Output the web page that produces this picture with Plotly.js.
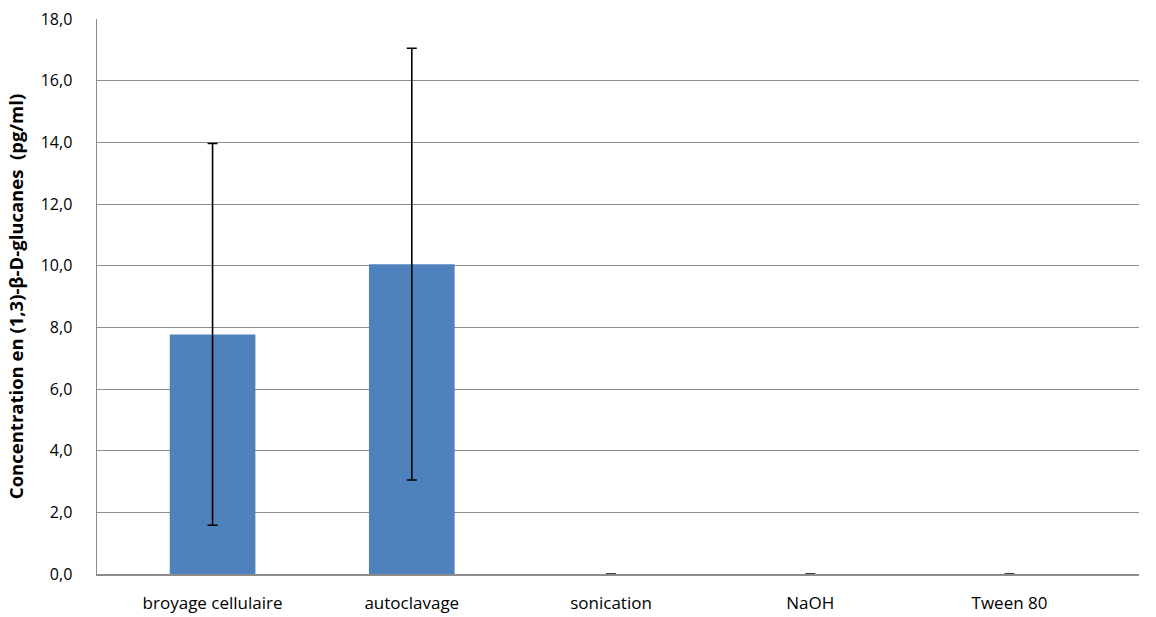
<!DOCTYPE html>
<html>
<head>
<meta charset="utf-8">
<script src="https://cdn.plot.ly/plotly-3.0.1.min.js"></script>
<style>html,body{margin:0;padding:0;background:#fff;}#chart{width:1156px;height:617px;}</style>
</head>
<body>
<div id="chart"></div>
<script>
const categories = ["broyage cellulaire", "autoclavage", "sonication", "NaOH", "Tween 80"];
const concentrations = [7.77, 10.05, 0, 0, 0];
const errors = [6.19, 7.0, 0, 0, 0];
const yTicks = [0, 2, 4, 6, 8, 10, 12, 14, 16, 18];
const yTitle = "Concentration en (1,3)-β-D-glucanes  (pg/ml)";

const trace = {
  type: "bar",
  x: categories,
  y: concentrations,
  width: 0.43,
  marker: {color: "#4F81BD", line: {width: 0}},
  error_y: {type: "data", array: errors, visible: true, color: "#000000", thickness: 1.6, width: 5},
  hoverinfo: "x+y"
};

const layout = {
  width: 1156, height: 617,
  margin: {l: 97, r: 17, t: 19, b: 43, pad: 0},
  paper_bgcolor: "#ffffff", plot_bgcolor: "#ffffff",
  separators: ", ",
  showlegend: false,
  font: {family: "Open Sans, Noto Sans, sans-serif", size: 15, color: "#000000"},
  xaxis: {
    type: "category",
    range: [-0.58, 4.65],
    showgrid: false,
    showline: true, linecolor: "#8C8C8C", linewidth: 1.5,
    ticks: "", ticklabelstandoff: 13,
    tickfont: {family: "Open Sans, Noto Sans, sans-serif", size: 17, color: "#000"},
    zeroline: false,
    automargin: false
  },
  yaxis: {
    range: [0, 18],
    tickvals: yTicks,
    tickformat: ".1f",
    showgrid: true, gridcolor: "#8C8C8C", gridwidth: 1,
    showline: true, linecolor: "#8C8C8C", linewidth: 1.5,
    zeroline: false,
    ticks: "", ticklabelstandoff: 20,
    tickfont: {family: "Open Sans, Noto Sans, sans-serif", size: 16, color: "#000"},
    title: {text: yTitle, standoff: 12, font: {family: "Open Sans, Noto Sans, sans-serif", size: 18.5, color: "#000", weight: "bold"}}
  }
};

Plotly.newPlot("chart", [trace], layout, {displayModeBar: false, staticPlot: true});
</script>
</body>
</html>
